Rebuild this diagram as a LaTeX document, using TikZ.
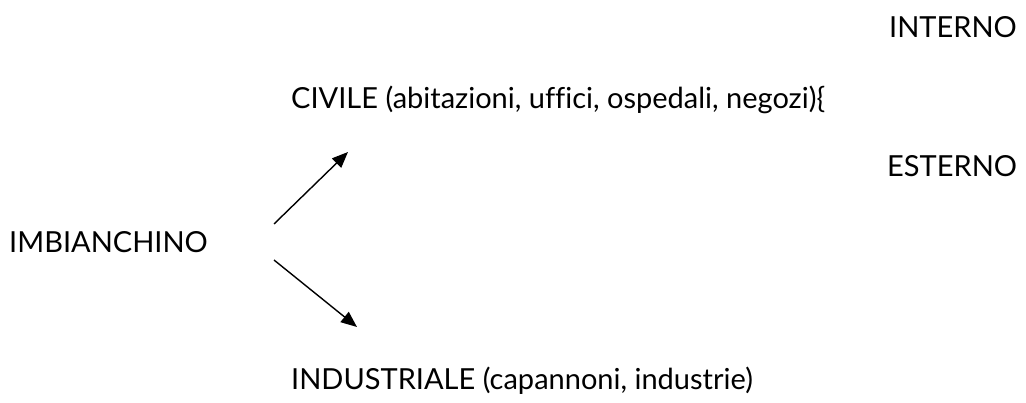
\documentclass[tikz,border=0pt]{standalone}
\usepackage{fontspec}
\setmainfont[Ligatures=NoCommon]{Lato}
\usetikzlibrary{arrows.meta}
\begin{document}
\begin{tikzpicture}[x=1pt,y=-1pt,
  lbl/.style={anchor=base west,inner sep=0pt,font=\fontsize{29}{32}\selectfont},
  arr/.style={-{Triangle[length=16pt,width=13pt]},line width=1.4pt}]
\useasboundingbox (0,0) rectangle (1026,403);
\node[lbl] (interno) at (889,38) {INTERNO};
\node[lbl] (civile) at (291,109) {CIVILE (abitazioni, uffici, ospedali, negozi)\{};
\node[lbl] (esterno) at (887,177) {ESTERNO};
\node[lbl] (imb) at (9,253) {IMBIANCHINO};
\node[lbl] (ind) at (291,389) {INDUSTRIALE (capannoni, industrie)};
\coordinate (a1s) at (274,224);
\coordinate (a1e) at (348,152);
\coordinate (a2s) at (274,260);
\coordinate (a2e) at (357,327);
\draw[arr] (a1s) -- (a1e);
\draw[arr] (a2s) -- (a2e);
\end{tikzpicture}
\end{document}
